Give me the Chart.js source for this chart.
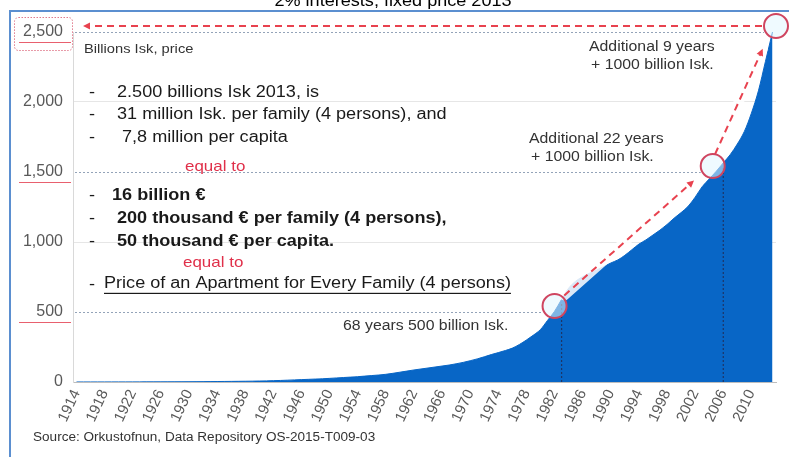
<!DOCTYPE html>
<html>
<head>
<meta charset="utf-8">
<script src="https://cdn.jsdelivr.net/npm/chart.js@4"></script>
<style>
  html, body { margin: 0; padding: 0; background: #ffffff; }
  #wrap { width: 789px; height: 457px; position: relative; }
</style>
</head>
<body>
<div id="wrap"><canvas id="c" width="789" height="457"></canvas></div>
<script>
// ---- data ----
const years = [
  1914,1915,1916,1917,1918,1919,
  1920,1921,1922,1923,1924,1925,1926,1927,1928,1929,
  1930,1931,1932,1933,1934,1935,1936,1937,1938,1939,
  1940,1941,1942,1943,1944,1945,1946,1947,1948,1949,
  1950,1951,1952,1953,1954,1955,1956,1957,1958,1959,
  1960,1961,1962,1963,1964,1965,1966,1967,1968,1969,
  1970,1971,1972,1973,1974,1975,1976,1977,1978,1979,
  1980,1981,1982,1983,1984,1985,1986,1987,1988,1989,
  1990,1991,1992,1993,1994,1995,1996,1997,1998,1999,
  2000,2001,2002,2003,2004,2005,2006,2007,2008,2009,
  2010,2011,2012,2013
];
// Billions Isk, price 2013 (cumulative)
const values = [
  0.2,0.3,0.3,0.4,0.4,0.5,
  0.6,0.6,0.7,0.8,0.9,1.0,1.1,1.3,1.5,1.7,
  2,2.3,2.6,3,3.4,3.8,4.3,4.8,5.4,6,
  7,8,9.5,11,13,15,17,19,21,23,
  26,29,32,35,38,42,46,50,55,62,
  70,78,86,93,100,107,114,121,130,140,
  152,165,180,196,210,225,242,268,300,335,
  375,440,505,590,670,720,752,778,800,825,
  850,872,905,945,985,1015,1050,1085,1125,1170,
  1210,1255,1320,1395,1450,1505,1565,1625,1700,1790,
  1920,2080,2290,2500
];
const yTicks = [0, 500, 1000, 1500, 2000, 2500];
const labelEvery = 4;

// milestone annotations
const markerYears = [1982, 2004.5, 2013.5];
const markerValues = [500, 1500, 2500];
const dropLineYears = [1983, 2006];

const titleText = "2% interests, fixed price 2013";
const unitText = "Billions Isk, price";
const sourceText = "Source: Orkustofnun, Data Repository OS-2015-T009-03";
const block1 = ["2.500 billions Isk 2013, is", "31 million Isk. per family (4 persons), and", " 7,8 million per capita"];
const block2 = ["16 billion \u20ac", "200 thousand \u20ac per family (4 persons),", "50 thousand \u20ac per capita."];
const equalText = "equal to";
const priceText = "Price of an Apartment for Every Family (4 persons)";
const note1 = ["68 years 500 billion Isk."];
const note2 = ["Additional 22 years", "+ 1000 billion Isk."];
const note3 = ["Additional 9 years", "+ 1000 billion Isk."];

// ---- helpers ----
const FONT = '"Liberation Sans", Arial, sans-serif';
const SX = 1.13;
function txt(ctx, s, x, y, size, color, opts) {
  opts = opts || {};
  ctx.save();
  ctx.font = (opts.bold ? 'bold ' : '') + size + 'px ' + FONT;
  ctx.fillStyle = color;
  ctx.textBaseline = opts.baseline || 'middle';
  ctx.textAlign = 'left';
  ctx.translate(x, y);
  ctx.scale(SX, 1);
  let w = ctx.measureText(s).width;
  let dx = 0;
  if (opts.align === 'center') dx = -w / 2;
  ctx.fillText(s, dx, 0);
  if (opts.underline) {
    ctx.fillRect(dx, size * 0.55, w, 1.2);
  }
  ctx.restore();
}
function dashedArrow(ctx, x1, y1, x2, y2, glow) {
  const ang = Math.atan2(y2 - y1, x2 - x1);
  if (glow) {
    ctx.save();
    ctx.strokeStyle = 'rgba(255,255,255,0.85)';
    ctx.lineWidth = 10;
    ctx.lineCap = 'round';
    ctx.beginPath(); ctx.moveTo(x1, y1); ctx.lineTo(x2, y2); ctx.stroke();
    ctx.restore();
  }
  ctx.save();
  ctx.strokeStyle = '#e8424f';
  ctx.fillStyle = '#e8424f';
  ctx.lineWidth = 2;
  ctx.setLineDash([7, 5]);
  ctx.beginPath(); ctx.moveTo(x1, y1); ctx.lineTo(x2 - 4 * Math.cos(ang), y2 - 4 * Math.sin(ang)); ctx.stroke();
  ctx.setLineDash([]);
  ctx.beginPath();
  ctx.moveTo(x2, y2);
  ctx.lineTo(x2 - 7 * Math.cos(ang) + 3.5 * Math.sin(ang), y2 - 7 * Math.sin(ang) - 3.5 * Math.cos(ang));
  ctx.lineTo(x2 - 7 * Math.cos(ang) - 3.5 * Math.sin(ang), y2 - 7 * Math.sin(ang) + 3.5 * Math.cos(ang));
  ctx.closePath(); ctx.fill();
  ctx.restore();
}

const annotations = {
  id: 'annotations',
  beforeDraw(chart) {
    const ctx = chart.ctx;
    ctx.save();
    ctx.fillStyle = '#ffffff';
    ctx.fillRect(0, 0, chart.width, chart.height);
    ctx.restore();
  },
  afterDatasetsDraw(chart) {
    const ctx = chart.ctx;
    const xs = chart.scales.x, ys = chart.scales.y;
    const step = xs.getPixelForValue(1) - xs.getPixelForValue(0);
    const px = yr => xs.getPixelForValue(0) + (yr - years[0]) * step;
    const base = ys.getPixelForValue(0);
    // dark dotted drop lines
    ctx.save();
    ctx.strokeStyle = '#1d3566';
    ctx.lineWidth = 1.2;
    ctx.setLineDash([2, 2]);
    dropLineYears.forEach(yr => {
      const x = px(yr);
      const v = values[years.indexOf(yr)];
      ctx.beginPath(); ctx.moveTo(x, base); ctx.lineTo(x, ys.getPixelForValue(v) + 4); ctx.stroke();
    });
    ctx.restore();
  },
  afterDraw(chart) {
    const ctx = chart.ctx;
    const area = chart.chartArea;
    const xs = chart.scales.x, ys = chart.scales.y;
    const step = xs.getPixelForValue(1) - xs.getPixelForValue(0);
    const px = yr => xs.getPixelForValue(0) + (yr - years[0]) * step;
    const R = 12;
    const centers = markerYears.map((yr, i) => ({ x: px(yr), y: ys.getPixelForValue(markerValues[i]) - 6 }));

    // dotted guide lines at milestone values
    ctx.save();
    ctx.strokeStyle = '#93a3b8';
    ctx.lineWidth = 1;
    ctx.setLineDash([2, 2]);
    markerValues.forEach((v, i) => {
      const y = Math.round(ys.getPixelForValue(v)) + 0.5;
      ctx.beginPath(); ctx.moveTo(area.left + 2, y); ctx.lineTo(centers[i].x - R, y); ctx.stroke();
    });
    ctx.restore();

    // arrows
    const unit = (a, b) => { const dx = b.x - a.x, dy = b.y - a.y, l = Math.hypot(dx, dy); return { x: dx / l, y: dy / l }; };
    let u = unit(centers[0], centers[1]);
    dashedArrow(ctx, centers[0].x + u.x * (R + 1), centers[0].y + u.y * (R + 1) - 2, centers[1].x - u.x * 25, centers[1].y - u.y * 25 - 2, true);
    u = unit(centers[1], centers[2]);
    dashedArrow(ctx, centers[1].x + u.x * (R + 1) - 3, centers[1].y + u.y * (R + 1), centers[2].x - u.x * 25 - 3, centers[2].y - u.y * 25, true);
    dashedArrow(ctx, centers[2].x - R - 2, centers[2].y, area.left + 10, centers[2].y, false);

    // circles
    ctx.save();
    centers.forEach(c => {
      ctx.beginPath(); ctx.arc(c.x, c.y, R, 0, Math.PI * 2);
      ctx.fillStyle = 'rgba(225,245,255,0.55)';
      ctx.fill();
      ctx.strokeStyle = '#cf4560';
      ctx.lineWidth = 2;
      ctx.stroke();
    });
    ctx.restore();

    // red underlines under 2,500 / 1,500 / 500 and dotted box around 2,500
    ctx.save();
    ctx.strokeStyle = '#e8606e';
    ctx.lineWidth = 1;
    markerValues.forEach(v => {
      const y = Math.round(ys.getPixelForValue(v)) + 10.5;
      ctx.beginPath(); ctx.moveTo(19, y); ctx.lineTo(71, y); ctx.stroke();
    });
    ctx.setLineDash([1.5, 1.5]);
    ctx.strokeStyle = '#e07a8c';
    ctx.beginPath();
    ctx.roundRect(14.5, 17.5, 58, 33, 4);
    ctx.stroke();
    ctx.restore();

    // frame
    ctx.save();
    ctx.strokeStyle = '#5b8fd0';
    ctx.lineWidth = 2;
    ctx.beginPath(); ctx.moveTo(10, 460); ctx.lineTo(10, 11); ctx.lineTo(789, 11); ctx.stroke();
    ctx.restore();

    // title (partly off the top of the picture)
    txt(ctx, titleText, 393, 6, 16, '#000000', { align: 'center', baseline: 'alphabetic' });

    // texts
    const dark = '#1a1a1a', red = '#e0304a', grey = '#333333';
    txt(ctx, unitText, 84, 49, 13, grey);
    const b1y = [93, 115, 138];
    block1.forEach((s, i) => { txt(ctx, '-', 89, b1y[i], 16, dark); txt(ctx, s, 117, b1y[i], 16, dark); });
    txt(ctx, equalText, 185, 167, 15, red);
    const b2y = [196, 219, 242];
    block2.forEach((s, i) => { txt(ctx, '-', 89, b2y[i], 16, dark); txt(ctx, s, i === 0 ? 112 : 117, b2y[i], 16, dark, { bold: true }); });
    txt(ctx, equalText, 183, 263, 15, red);
    txt(ctx, '-', 89, 285, 16, dark);
    txt(ctx, priceText, 104, 284, 16, dark, { underline: true });
    txt(ctx, note1[0], 343, 326, 14, grey);
    txt(ctx, note2[0], 529, 139, 14, grey);
    txt(ctx, note2[1], 531, 157, 14, grey);
    txt(ctx, note3[0], 589, 47, 14, grey);
    txt(ctx, note3[1], 591, 65, 14, grey);
    txt(ctx, sourceText, 33, 438, 12, grey);
  }
};

new Chart(document.getElementById('c'), {
  type: 'line',
  data: {
    labels: years.map(String),
    datasets: [{
      data: values,
      backgroundColor: '#0866c6',
      borderColor: '#0866c6',
      borderWidth: 1,
      fill: 'origin',
      pointRadius: 0,
      cubicInterpolationMode: 'monotone'
    }]
  },
  options: {
    responsive: false,
    animation: false,
    layout: { padding: { top: 32, right: 13, left: 0, bottom: 0 } },
    plugins: { legend: { display: false }, tooltip: { enabled: false }, title: { display: false } },
    scales: {
      x: {
        offset: true,
        grid: { display: false, drawTicks: false },
        border: { display: true, color: '#bdbdbd', width: 1 },
        ticks: {
          autoSkip: false,
          maxRotation: 65,
          minRotation: 65,
          padding: 5,
          color: '#595959',
          font: { family: FONT, size: 15 },
          callback: function (value, index) {
            return (years[index] - years[0]) % labelEvery === 0 ? String(years[index]) : '';
          }
        },
        afterFit: s => { s.height = 75; s.paddingLeft = 0; s.paddingRight = 0; }
      },
      y: {
        min: yTicks[0],
        max: yTicks[yTicks.length - 1],
        afterBuildTicks: s => { s.ticks = yTicks.map(v => ({ value: v })); },
        grid: {
          drawTicks: false,
          color: ctx => (ctx.tick && (ctx.tick.value === 1000 || ctx.tick.value === 2000)) ? '#e6e6e6' : 'rgba(0,0,0,0)'
        },
        border: { display: true, color: '#d9d9d9' },
        ticks: {
          padding: 10,
          color: '#595959',
          font: { family: FONT, size: 16 },
          callback: v => v.toLocaleString('en-US')
        },
        afterFit: s => { s.width = 73; }
      }
    }
  },
  plugins: [annotations]
});
</script>
</body>
</html>
